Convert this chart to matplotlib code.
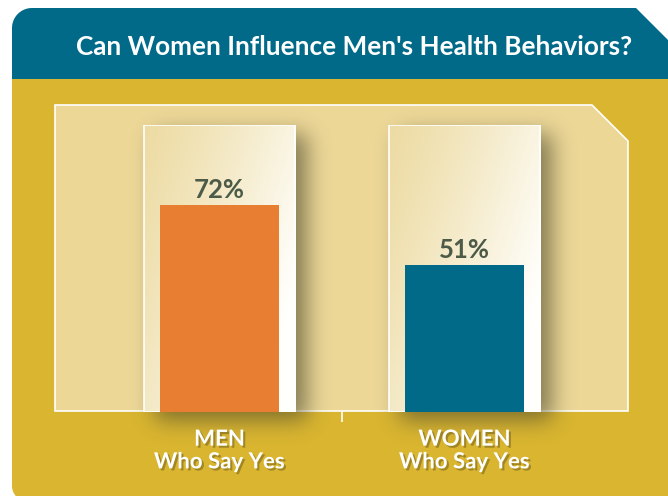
import numpy as np
import matplotlib.pyplot as plt
from matplotlib.patches import Polygon
from matplotlib import patheffects as pe

# Chart data
categories = ['MEN\nWho Say Yes', 'WOMEN\nWho Say Yes']
values = [72, 51]
bar_colors = ['#E77E31', '#026A89']

title = "Can Women Influence Men's Health Behaviors?"

W, H = 668, 496
fig = plt.figure(figsize=(W / 100, H / 100), dpi=100)
fig.patch.set_facecolor('white')

# background axes in pixel coordinates
bg = fig.add_axes([0, 0, 1, 1])
bg.set_xlim(0, W)
bg.set_ylim(H, 0)
bg.axis('off')


def arc(cx, cy, r, a0, a1, n=20):
    t = np.radians(np.linspace(a0, a1, n))
    return list(zip(cx + r * np.cos(t), cy + r * np.sin(t)))


# gold body with rounded bottom-left corner
gold_pts = [(12, 79), (W, 79), (W, H + 5), (27, H + 5)] + arc(27, H - 15 + 5, 15, 90, 180)
bg.add_patch(Polygon(gold_pts, closed=True, fc='#D9B530', ec='none', zorder=1))

# teal header, rounded top-left, cut top-right
head_pts = [(12, 79)] + arc(32, 28, 20, 180, 270) + [(636, 8), (W, 40), (W, 79)]
bg.add_patch(Polygon(head_pts, closed=True, fc='#026A89', ec='none', zorder=2))

bg.text(354, 47, title, color='white', fontsize=18.8, fontweight='bold',
        family='Lato', ha='center', va='center', zorder=3)

# light panel
panel_pts = [(55, 105), (592, 105), (628, 141), (628, 411), (55, 411)]
bg.add_patch(Polygon(panel_pts, closed=True, fc='#ECD797', ec='white', lw=1.2, zorder=2))

# bar axes: y 0..100 maps onto the column height
ax = fig.add_axes([97 / W, 84 / H, 490 / W, 287.5 / H])
ax.set_xlim(-0.5, 1.5)
ax.set_ylim(0, 100)
ax.patch.set_visible(False)
for s in ax.spines.values():
    s.set_visible(False)
ax.set_yticks([])

x = np.arange(len(values))
col_w = 0.62
bar_w = 0.486

# soft drop shadow behind the columns (computed in pixel space)
mask = np.zeros((H, W))
for xi in x:
    (x0, y0) = ax.transData.transform((xi - col_w / 2, 100))
    (x1, y1) = ax.transData.transform((xi + col_w / 2, 0))
    px0, px1 = int(x0) + 12, int(x1) + 12
    py0, py1 = int(H - y0) + 10, int(H - y1) + 8
    mask[py0:py1, px0:px1] = 1.0
k = np.exp(-0.5 * (np.arange(-30, 31) / 11.0) ** 2)
k /= k.sum()
mask = np.apply_along_axis(lambda r: np.convolve(r, k, mode='same'), 1, mask)
mask = np.apply_along_axis(lambda c: np.convolve(c, k, mode='same'), 0, mask)
shadow = np.zeros((H, W, 4))
shadow[..., 0] = 0.30
shadow[..., 1] = 0.29
shadow[..., 2] = 0.18
shadow[..., 3] = mask * 0.65
bg.imshow(shadow, extent=(0, W, H, 0), zorder=2.5, interpolation='bilinear')
bg.set_xlim(0, W)
bg.set_ylim(H, 0)

# columns with cream-to-white gradient
u = np.linspace(0, 1, 100)[None, :]
v = np.linspace(0, 1, 200)[:, None]
t = np.clip(0.75 * u + 0.45 * v, 0, 1) ** 1.2
cream = np.array([0.93, 0.86, 0.64])
white = np.array([1.0, 1.0, 0.99])
grad = cream[None, None, :] * (1 - t[..., None]) + white[None, None, :] * t[..., None]

cols = ax.bar(x, [100] * len(x), width=col_w, color='none', edgecolor='white', lw=1.2, zorder=3)
for c, xi in zip(cols, x):
    im = ax.imshow(grad, extent=(xi - col_w / 2, xi + col_w / 2, 0, 100),
                   aspect='auto', zorder=2, interpolation='bilinear')
    im.set_clip_path(c)

ax.bar(x, values, width=bar_w, color=bar_colors, zorder=4)
ax.set_xlim(-0.5, 1.5)
ax.set_ylim(0, 100)

for xi, val in zip(x, values):
    ax.annotate(f'{val}%', (xi, val), xytext=(0, 5), textcoords='offset points',
                ha='center', va='baseline', fontsize=18.5, fontweight='bold',
                family='Lato', color='#4C5A48', zorder=5)

ax.set_xticks(x)
ax.set_xticklabels(categories, fontsize=16, fontweight='bold', family='Lato',
                   color='white', linespacing=1.1)
ax.tick_params(axis='x', which='major', length=0, pad=12)
ax.set_xticks([0.5], minor=True)
ax.tick_params(axis='x', which='minor', length=7.5, width=1.2, color='white')
for lbl in ax.get_xticklabels():
    lbl.set_path_effects([pe.withSimplePatchShadow(offset=(1.5, -1.5), shadow_rgbFace='#6b5a1a', alpha=0.5)])

fig.savefig('out.png', dpi=100)
